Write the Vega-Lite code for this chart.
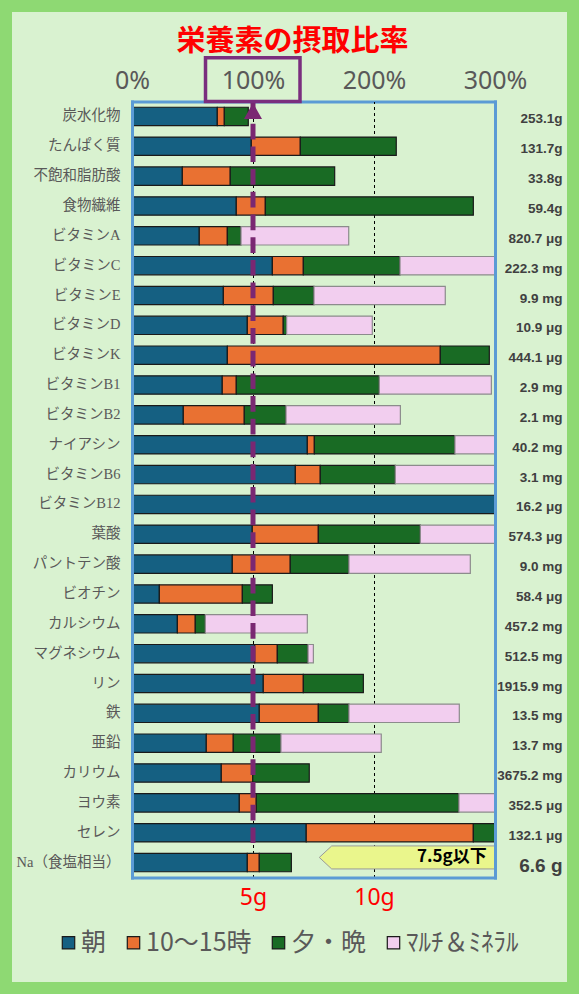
{
  "$schema": "https://vega.github.io/schema/vega-lite/v6.json",
  "description": "栄養素の摂取比率: stacked bars per nutrient, share of daily target by time of day.",
  "width": 579,
  "height": 994,
  "autosize": "none",
  "padding": 0,
  "background": "#8ED973",
  "title": {
    "text": "栄養素の摂取比率",
    "color": "#FF0000",
    "fontSize": 29,
    "fontWeight": "bold",
    "font": "Noto Sans CJK JP",
    "anchor": "middle",
    "frame": "group",
    "offset": -57,
    "dx": 3
  },
  "data": {
    "values": [
      {"key": "炭水化物|253.1g", "slot": "朝", "t": 1, "pct": 70.5},
      {"key": "炭水化物|253.1g", "slot": "10～15時", "t": 2, "pct": 5.8},
      {"key": "炭水化物|253.1g", "slot": "夕・晩", "t": 3, "pct": 19.8},
      {"key": "たんぱく質|131.7g", "slot": "朝", "t": 1, "pct": 98.6},
      {"key": "たんぱく質|131.7g", "slot": "10～15時", "t": 2, "pct": 40.5},
      {"key": "たんぱく質|131.7g", "slot": "夕・晩", "t": 3, "pct": 79.3},
      {"key": "不飽和脂肪酸|33.8g", "slot": "朝", "t": 1, "pct": 41.6},
      {"key": "不飽和脂肪酸|33.8g", "slot": "10～15時", "t": 2, "pct": 39.6},
      {"key": "不飽和脂肪酸|33.8g", "slot": "夕・晩", "t": 3, "pct": 86.3},
      {"key": "食物繊維|59.4g", "slot": "朝", "t": 1, "pct": 86.2},
      {"key": "食物繊維|59.4g", "slot": "10～15時", "t": 2, "pct": 24},
      {"key": "食物繊維|59.4g", "slot": "夕・晩", "t": 3, "pct": 171.9},
      {"key": "ビタミンA|820.7 μg", "slot": "朝", "t": 1, "pct": 55.6},
      {"key": "ビタミンA|820.7 μg", "slot": "10～15時", "t": 2, "pct": 23.2},
      {"key": "ビタミンA|820.7 μg", "slot": "夕・晩", "t": 3, "pct": 11.3},
      {"key": "ビタミンA|820.7 μg", "slot": "ﾏﾙﾁ＆ﾐﾈﾗﾙ", "t": 4, "pct": 89},
      {"key": "ビタミンC|222.3 mg", "slot": "朝", "t": 1, "pct": 116},
      {"key": "ビタミンC|222.3 mg", "slot": "10～15時", "t": 2, "pct": 25.6},
      {"key": "ビタミンC|222.3 mg", "slot": "夕・晩", "t": 3, "pct": 79.9},
      {"key": "ビタミンC|222.3 mg", "slot": "ﾏﾙﾁ＆ﾐﾈﾗﾙ", "t": 4, "pct": 110},
      {"key": "ビタミンE|9.9 mg", "slot": "朝", "t": 1, "pct": 75.5},
      {"key": "ビタミンE|9.9 mg", "slot": "10～15時", "t": 2, "pct": 41.3},
      {"key": "ビタミンE|9.9 mg", "slot": "夕・晩", "t": 3, "pct": 33.6},
      {"key": "ビタミンE|9.9 mg", "slot": "ﾏﾙﾁ＆ﾐﾈﾗﾙ", "t": 4, "pct": 108.5},
      {"key": "ビタミンD|10.9 μg", "slot": "朝", "t": 1, "pct": 95.3},
      {"key": "ビタミンD|10.9 μg", "slot": "10～15時", "t": 2, "pct": 29.7},
      {"key": "ビタミンD|10.9 μg", "slot": "夕・晩", "t": 3, "pct": 2.8},
      {"key": "ビタミンD|10.9 μg", "slot": "ﾏﾙﾁ＆ﾐﾈﾗﾙ", "t": 4, "pct": 70.8},
      {"key": "ビタミンK|444.1 μg", "slot": "朝", "t": 1, "pct": 78.8},
      {"key": "ビタミンK|444.1 μg", "slot": "10～15時", "t": 2, "pct": 176},
      {"key": "ビタミンK|444.1 μg", "slot": "夕・晩", "t": 3, "pct": 40.5},
      {"key": "ビタミンB1|2.9 mg", "slot": "朝", "t": 1, "pct": 74.6},
      {"key": "ビタミンB1|2.9 mg", "slot": "10～15時", "t": 2, "pct": 11.6},
      {"key": "ビタミンB1|2.9 mg", "slot": "夕・晩", "t": 3, "pct": 118.2},
      {"key": "ビタミンB1|2.9 mg", "slot": "ﾏﾙﾁ＆ﾐﾈﾗﾙ", "t": 4, "pct": 92.6},
      {"key": "ビタミンB2|2.1 mg", "slot": "朝", "t": 1, "pct": 42.4},
      {"key": "ビタミンB2|2.1 mg", "slot": "10～15時", "t": 2, "pct": 50.4},
      {"key": "ビタミンB2|2.1 mg", "slot": "夕・晩", "t": 3, "pct": 34.5},
      {"key": "ビタミンB2|2.1 mg", "slot": "ﾏﾙﾁ＆ﾐﾈﾗﾙ", "t": 4, "pct": 94.5},
      {"key": "ナイアシン|40.2 mg", "slot": "朝", "t": 1, "pct": 144.9},
      {"key": "ナイアシン|40.2 mg", "slot": "10～15時", "t": 2, "pct": 5.8},
      {"key": "ナイアシン|40.2 mg", "slot": "夕・晩", "t": 3, "pct": 116.2},
      {"key": "ナイアシン|40.2 mg", "slot": "ﾏﾙﾁ＆ﾐﾈﾗﾙ", "t": 4, "pct": 60},
      {"key": "ビタミンB6|3.1 mg", "slot": "朝", "t": 1, "pct": 135},
      {"key": "ビタミンB6|3.1 mg", "slot": "10～15時", "t": 2, "pct": 20.6},
      {"key": "ビタミンB6|3.1 mg", "slot": "夕・晩", "t": 3, "pct": 62},
      {"key": "ビタミンB6|3.1 mg", "slot": "ﾏﾙﾁ＆ﾐﾈﾗﾙ", "t": 4, "pct": 110},
      {"key": "ビタミンB12|16.2 μg", "slot": "朝", "t": 1, "pct": 330},
      {"key": "葉酸|574.3 μg", "slot": "朝", "t": 1, "pct": 99.4},
      {"key": "葉酸|574.3 μg", "slot": "10～15時", "t": 2, "pct": 54.6},
      {"key": "葉酸|574.3 μg", "slot": "夕・晩", "t": 3, "pct": 84.3},
      {"key": "葉酸|574.3 μg", "slot": "ﾏﾙﾁ＆ﾐﾈﾗﾙ", "t": 4, "pct": 90},
      {"key": "パントテン酸|9.0 mg", "slot": "朝", "t": 1, "pct": 82.9},
      {"key": "パントテン酸|9.0 mg", "slot": "10～15時", "t": 2, "pct": 47.9},
      {"key": "パントテン酸|9.0 mg", "slot": "夕・晩", "t": 3, "pct": 48.5},
      {"key": "パントテン酸|9.0 mg", "slot": "ﾏﾙﾁ＆ﾐﾈﾗﾙ", "t": 4, "pct": 100.3},
      {"key": "ビオチン|58.4 μg", "slot": "朝", "t": 1, "pct": 22.6},
      {"key": "ビオチン|58.4 μg", "slot": "10～15時", "t": 2, "pct": 68.6},
      {"key": "ビオチン|58.4 μg", "slot": "夕・晩", "t": 3, "pct": 24.8},
      {"key": "カルシウム|457.2 mg", "slot": "朝", "t": 1, "pct": 37.5},
      {"key": "カルシウム|457.2 mg", "slot": "10～15時", "t": 2, "pct": 14.8},
      {"key": "カルシウム|457.2 mg", "slot": "夕・晩", "t": 3, "pct": 8.3},
      {"key": "カルシウム|457.2 mg", "slot": "ﾏﾙﾁ＆ﾐﾈﾗﾙ", "t": 4, "pct": 84.3},
      {"key": "マグネシウム|512.5 mg", "slot": "朝", "t": 1, "pct": 101.4},
      {"key": "マグネシウム|512.5 mg", "slot": "10～15時", "t": 2, "pct": 18.7},
      {"key": "マグネシウム|512.5 mg", "slot": "夕・晩", "t": 3, "pct": 25.4},
      {"key": "マグネシウム|512.5 mg", "slot": "ﾏﾙﾁ＆ﾐﾈﾗﾙ", "t": 4, "pct": 4.4},
      {"key": "リン|1915.9 mg", "slot": "朝", "t": 1, "pct": 108.5},
      {"key": "リン|1915.9 mg", "slot": "10～15時", "t": 2, "pct": 33.1},
      {"key": "リン|1915.9 mg", "slot": "夕・晩", "t": 3, "pct": 49.6},
      {"key": "鉄|13.5 mg", "slot": "朝", "t": 1, "pct": 105.2},
      {"key": "鉄|13.5 mg", "slot": "10～15時", "t": 2, "pct": 48.8},
      {"key": "鉄|13.5 mg", "slot": "夕・晩", "t": 3, "pct": 25.3},
      {"key": "鉄|13.5 mg", "slot": "ﾏﾙﾁ＆ﾐﾈﾗﾙ", "t": 4, "pct": 91.2},
      {"key": "亜鉛|13.7 mg", "slot": "朝", "t": 1, "pct": 61.4},
      {"key": "亜鉛|13.7 mg", "slot": "10～15時", "t": 2, "pct": 22.3},
      {"key": "亜鉛|13.7 mg", "slot": "夕・晩", "t": 3, "pct": 39.4},
      {"key": "亜鉛|13.7 mg", "slot": "ﾏﾙﾁ＆ﾐﾈﾗﾙ", "t": 4, "pct": 82.9},
      {"key": "カリウム|3675.2 mg", "slot": "朝", "t": 1, "pct": 73.8},
      {"key": "カリウム|3675.2 mg", "slot": "10～15時", "t": 2, "pct": 26},
      {"key": "カリウム|3675.2 mg", "slot": "夕・晩", "t": 3, "pct": 46.7},
      {"key": "ヨウ素|352.5 μg", "slot": "朝", "t": 1, "pct": 88.7},
      {"key": "ヨウ素|352.5 μg", "slot": "10～15時", "t": 2, "pct": 14},
      {"key": "ヨウ素|352.5 μg", "slot": "夕・晩", "t": 3, "pct": 167.5},
      {"key": "ヨウ素|352.5 μg", "slot": "ﾏﾙﾁ＆ﾐﾈﾗﾙ", "t": 4, "pct": 60},
      {"key": "セレン|132.1 μg", "slot": "朝", "t": 1, "pct": 144},
      {"key": "セレン|132.1 μg", "slot": "10～15時", "t": 2, "pct": 138.1},
      {"key": "セレン|132.1 μg", "slot": "夕・晩", "t": 3, "pct": 40},
      {"key": "Na（食塩相当）|6.6 g", "slot": "朝", "t": 1, "pct": 95.3},
      {"key": "Na（食塩相当）|6.6 g", "slot": "10～15時", "t": 2, "pct": 9.9},
      {"key": "Na（食塩相当）|6.6 g", "slot": "夕・晩", "t": 3, "pct": 26.5}
    ]
  },
  "layer": [
    {
      "mark": {"type": "bar", "strokeWidth": 1.2},
      "encoding": {
        "y": {
          "field": "key",
          "type": "nominal",
          "scale": {
            "domain": [
              "炭水化物|253.1g", "たんぱく質|131.7g", "不飽和脂肪酸|33.8g", "食物繊維|59.4g",
              "ビタミンA|820.7 μg", "ビタミンC|222.3 mg", "ビタミンE|9.9 mg", "ビタミンD|10.9 μg",
              "ビタミンK|444.1 μg", "ビタミンB1|2.9 mg", "ビタミンB2|2.1 mg", "ナイアシン|40.2 mg",
              "ビタミンB6|3.1 mg", "ビタミンB12|16.2 μg", "葉酸|574.3 μg", "パントテン酸|9.0 mg",
              "ビオチン|58.4 μg", "カルシウム|457.2 mg", "マグネシウム|512.5 mg", "リン|1915.9 mg",
              "鉄|13.5 mg", "亜鉛|13.7 mg", "カリウム|3675.2 mg", "ヨウ素|352.5 μg",
              "セレン|132.1 μg", "Na（食塩相当）|6.6 g"
            ],
            "range": [101.5, 877.5],
            "paddingInner": 0.385,
            "paddingOuter": 0.1925
          },
          "axis": {
            "orient": "left",
            "offset": -132,
            "title": null,
            "labelExpr": "split(datum.value, '|')[0]",
            "ticks": false,
            "domainColor": "#5B9BD5",
            "domainWidth": 3,
            "domainCap": "square",
            "labelPadding": 12,
            "labelFontSize": 14.5,
            "labelColor": "#595959",
            "labelFont": "Liberation Serif, Noto Sans CJK JP",
            "zindex": 1
          }
        },
        "x": {
          "field": "pct",
          "type": "quantitative",
          "stack": "zero",
          "scale": {"domain": [0, 300], "range": [132, 495], "clamp": true, "nice": false},
          "axis": {
            "orient": "top",
            "offset": -101.5,
            "title": null,
            "values": [0, 100, 200, 300],
            "labelExpr": "datum.value + '%'",
            "ticks": false,
            "grid": false,
            "domainColor": "#5B9BD5",
            "domainWidth": 3,
            "domainCap": "square",
            "labelFontSize": 25,
            "labelColor": "#595959",
            "labelFont": "Noto Sans",
            "labelPadding": 13,
            "labelBaseline": "alphabetic",
            "labelFlush": false,
            "zindex": 0
          }
        },
        "color": {
          "field": "slot",
          "type": "nominal",
          "scale": {
            "domain": ["朝", "10～15時", "夕・晩", "ﾏﾙﾁ＆ﾐﾈﾗﾙ"],
            "range": ["#156082", "#E97132", "#196B24", "#F2CEEF"]
          },
          "legend": {
            "orient": "none",
            "legendX": 56,
            "legendY": 930,
            "direction": "horizontal",
            "title": null,
            "symbolType": "square",
            "symbolSize": 154,
            "symbolStrokeWidth": 1.2,
            "symbolOpacity": 1,
            "labelFontSize": 25,
            "labelColor": "#595959",
            "labelFont": "Noto Sans CJK JP",
            "columnPadding": 14,
            "labelOffset": 0,
            "padding": 0,
            "labelLimit": 200,
            "encode": {
              "symbols": {
                "update": {
                  "stroke": {"signal": "datum.value === 'ﾏﾙﾁ＆ﾐﾈﾗﾙ' ? '#8c8c8c' : '#1a1a1a'"}
                }
              }
            }
          }
        },
        "stroke": {
          "condition": {"test": "datum.slot === 'ﾏﾙﾁ＆ﾐﾈﾗﾙ'", "value": "#8c8c8c"},
          "value": "#1a1a1a"
        },
        "order": {"field": "t"}
      }
    },
    {
      "data": {"values": [{}]},
      "mark": {
        "type": "point",
        "shape": "M-1,0L-0.859,-0.131L1,-0.131L1,0.131L-0.859,0.131Z",
        "size": 30870,
        "filled": true,
        "fill": "#EAF68C",
        "stroke": "#9a9a9a",
        "strokeWidth": 1,
        "opacity": 1
      },
      "encoding": {
        "x": {
          "datum": 227.4,
          "axis": {
            "orient": "bottom",
            "offset": -116.5,
            "title": null,
            "values": [100, 200],
            "labelExpr": "datum.value == 100 ? '5g' : '10g'",
            "labelColor": "#FF0000",
            "labelFontSize": 23,
            "labelFont": "Noto Sans",
            "ticks": true,
            "tickSize": -776,
            "tickColor": "#000000",
            "tickWidth": 1,
            "tickDash": [3, 3],
            "labelPadding": 802.5,
            "labelBaseline": "alphabetic",
            "labelFlush": false,
            "grid": false,
            "domainColor": "#5B9BD5",
            "domainWidth": 3,
            "domainCap": "square",
            "zindex": 0
          }
        },
        "y": {
          "datum": "Na（食塩相当）|6.6 g",
          "bandPosition": 0.22,
          "axis": {
            "orient": "right",
            "offset": -84,
            "title": null,
            "labelExpr": "split(datum.value, '|')[1]",
            "ticks": false,
            "domainColor": "#5B9BD5",
            "domainWidth": 3,
            "domainCap": "square",
            "labelAlign": "right",
            "labelPadding": 67,
            "labelFont": "Liberation Sans",
            "labelFontWeight": "bold",
            "labelFontSize": {"condition": {"test": "indexof(datum.value, 'Na') == 0", "value": 19}, "value": 13.5},
            "labelColor": "#404040",
            "labelOffset": 3,
            "zindex": 1
          }
        }
      }
    },
    {
      "data": {"values": [{}]},
      "mark": {
        "type": "text",
        "text": "7.5g以下",
        "align": "right",
        "baseline": "middle",
        "fontSize": 17,
        "fontWeight": "bold",
        "font": "Noto Sans CJK JP",
        "color": "#000000"
      },
      "encoding": {
        "x": {"datum": 293.1, "axis": null},
        "y": {"datum": "Na（食塩相当）|6.6 g", "bandPosition": 0.22, "axis": null}
      }
    },
    {
      "data": {"values": [{}]},
      "mark": {"type": "rule", "color": "#7A2872", "strokeWidth": 5, "strokeDash": [15.7, 7]},
      "encoding": {
        "x": {"datum": 100, "axis": null},
        "y": {"datum": "炭水化物|253.1g", "bandPosition": -0.34, "axis": null},
        "y2": {"datum": "セレン|132.1 μg", "bandPosition": 1.108}
      }
    },
    {
      "data": {"values": [{}]},
      "mark": {
        "type": "point",
        "shape": "M-1,0.889L0,-0.889L1,0.889Z",
        "size": 324,
        "filled": true,
        "color": "#7A2872",
        "opacity": 1
      },
      "encoding": {
        "x": {"datum": 100, "axis": null},
        "y": {"datum": "炭水化物|253.1g", "bandPosition": 0.204, "axis": null}
      }
    },
    {
      "data": {"values": [{}]},
      "mark": {
        "type": "point",
        "shape": "M-1,-0.463L1,-0.463L1,0.463L-1,0.463Z",
        "size": 8930,
        "filled": false,
        "color": "#7A2E7E",
        "strokeWidth": 3.5,
        "opacity": 1
      },
      "encoding": {
        "x": {"datum": 99.8, "axis": null},
        "y": {"datum": "炭水化物|253.1g", "bandPosition": -1.506, "axis": null}
      }
    }
  ],
  "resolve": {"axis": {"x": "independent", "y": "independent"}},
  "config": {
    "view": {"fill": "#D9F2D0", "stroke": "#8ED973", "strokeWidth": 24}
  }
}
